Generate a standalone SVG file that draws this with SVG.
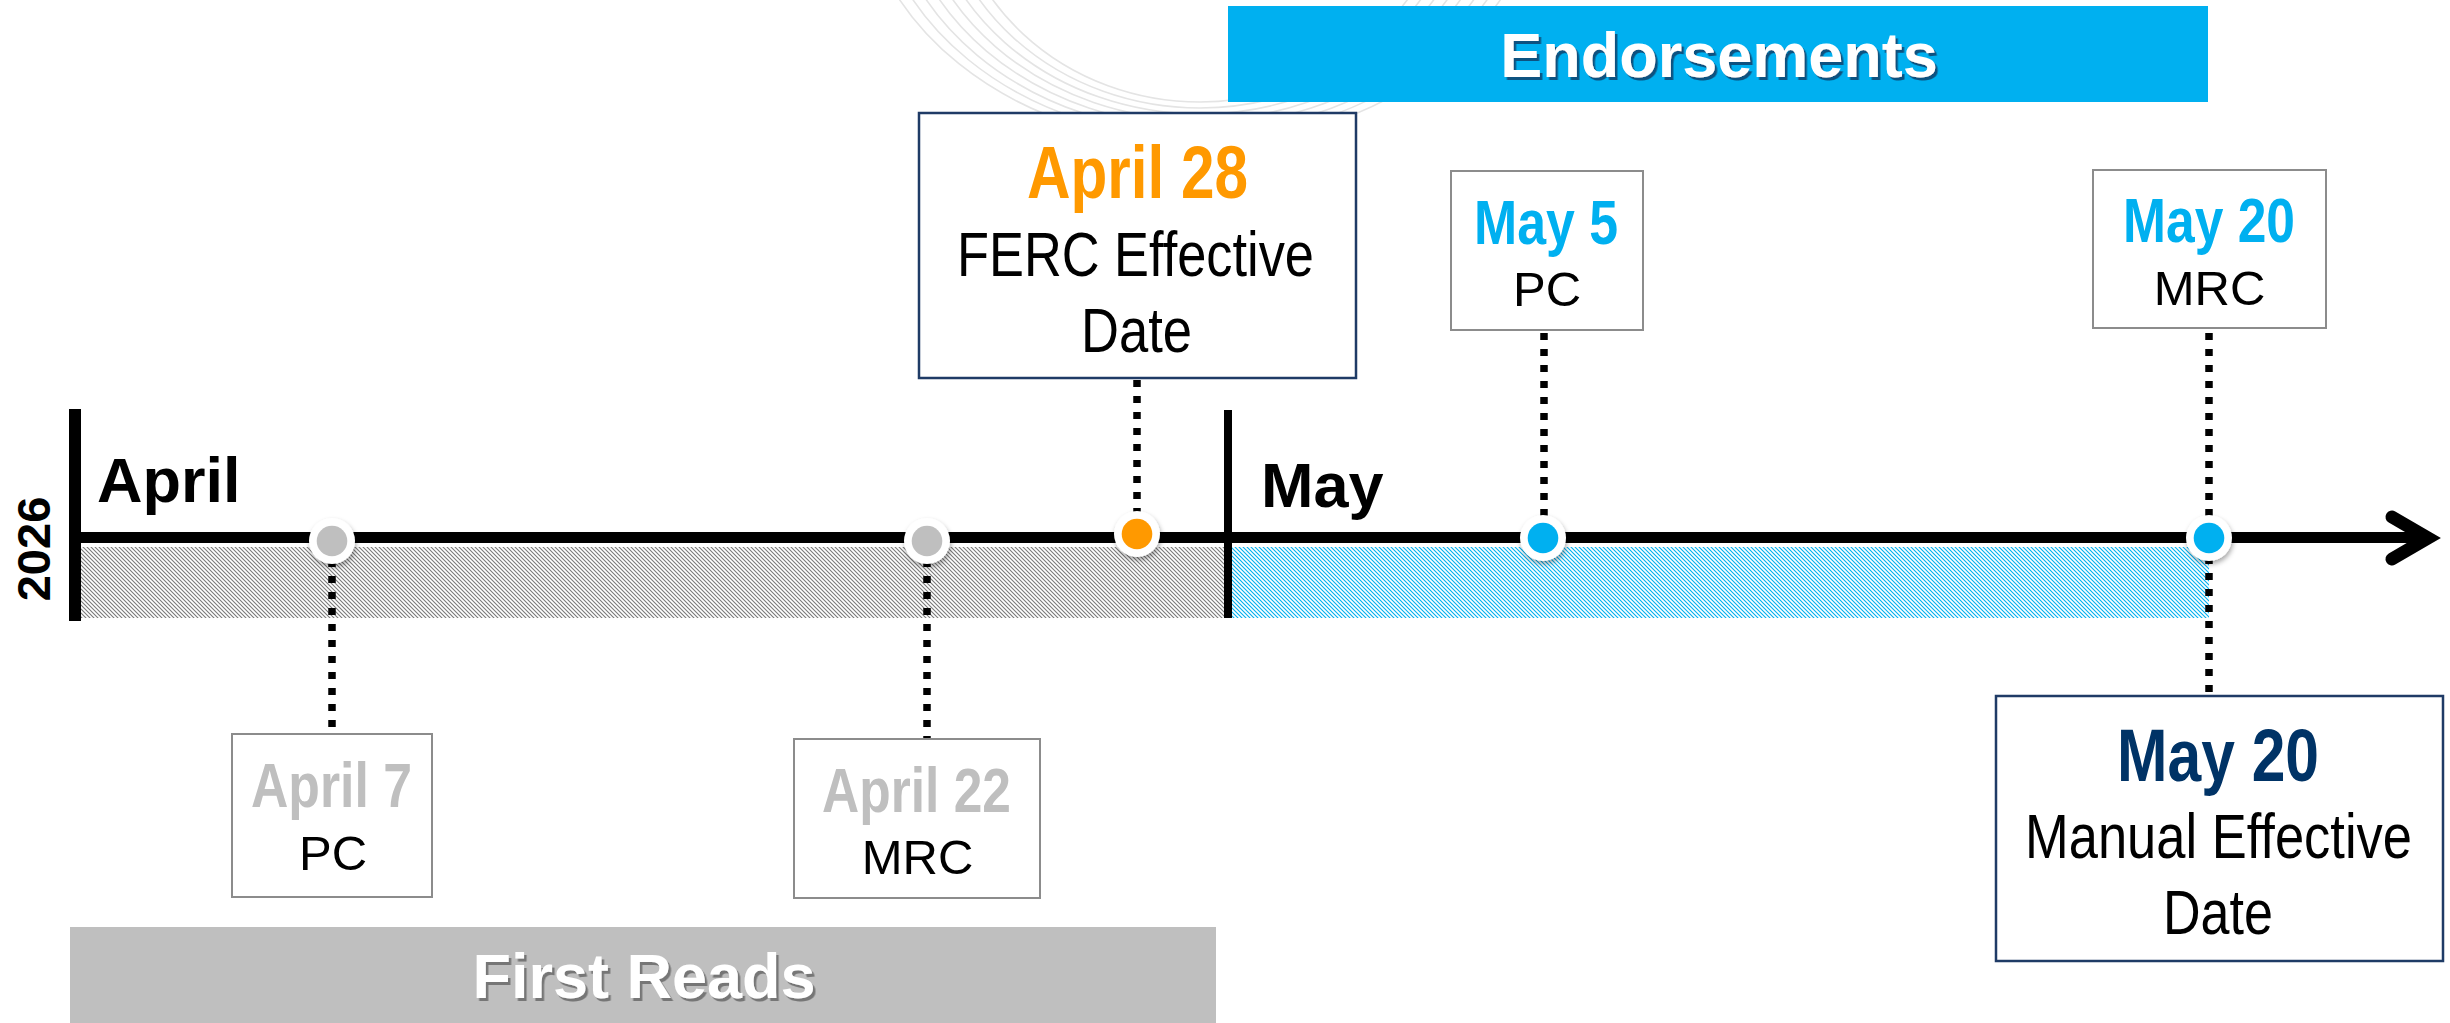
<svg xmlns="http://www.w3.org/2000/svg" width="2450" height="1023" viewBox="0 0 2450 1023">
<defs>
<style>
.bold{font-family:"Liberation Sans",Arial,sans-serif;font-weight:bold}
.reg{font-family:"Liberation Sans",Arial,sans-serif;font-weight:normal}
.dot{stroke:#000;stroke-width:7.5;stroke-dasharray:7 9;fill:none}
.gbox{fill:#fff;stroke:#8c8c8c;stroke-width:2}
.nbox{fill:#fff;stroke:#1f3b66;stroke-width:2.5}
.wm{fill:none;stroke:#e4e4e4;stroke-width:1.6}
</style>
<pattern id="hatchGray" width="4" height="4" patternUnits="userSpaceOnUse">
<rect width="4" height="4" fill="#fff"/>
<path d="M-1,-1 L5,5 M-1,3 L1,5 M3,-1 L5,1" stroke="#7a7a7a" stroke-width="1.1"/>
</pattern>
<pattern id="hatchBlue" width="4" height="4" patternUnits="userSpaceOnUse">
<rect width="4" height="4" fill="#fff"/>
<path d="M-1,-1 L5,5 M-1,3 L1,5 M3,-1 L5,1" stroke="#00b0f0" stroke-width="1.1"/>
</pattern>
<filter id="dotShadow" x="-50%" y="-50%" width="200%" height="200%">
<feDropShadow dx="1" dy="3" stdDeviation="2.5" flood-color="#000" flood-opacity="0.35"/>
</filter>
<filter id="blueTextShadow" x="-5%" y="-20%" width="110%" height="140%">
<feDropShadow dx="2.5" dy="3" stdDeviation="0.6" flood-color="#0d4a73" flood-opacity="0.9"/>
</filter>
<filter id="grayTextShadow" x="-5%" y="-20%" width="110%" height="140%">
<feDropShadow dx="2.5" dy="3" stdDeviation="0.6" flood-color="#6e6e6e" flood-opacity="0.9"/>
</filter>
</defs>
<rect width="2450" height="1023" fill="#fff"/>

<g id="watermark">
<ellipse class="wm" cx="1200" cy="-130" rx="250" ry="232"/>
<ellipse class="wm" cx="1200" cy="-130" rx="263" ry="238"/>
<ellipse class="wm" cx="1200" cy="-130" rx="276" ry="244"/>
<ellipse class="wm" cx="1200" cy="-130" rx="289" ry="250"/>
<ellipse class="wm" cx="1200" cy="-130" rx="302" ry="256"/>
<ellipse class="wm" cx="1200" cy="-130" rx="315" ry="262"/>
<ellipse class="wm" cx="1200" cy="-130" rx="328" ry="268"/>
<ellipse class="wm" cx="1200" cy="-130" rx="341" ry="274"/>
</g>

<g id="bands">
<rect x="81" y="547" width="1143" height="71" fill="url(#hatchGray)"/>
<rect x="1232" y="547" width="977" height="71" fill="url(#hatchBlue)"/>
</g>

<g id="header-endorsements">
<rect x="1228" y="6" width="980" height="96" fill="#00b0f0"/>
<text class="bold" x="1719" y="77" font-size="63" fill="#fff" text-anchor="middle" filter="url(#blueTextShadow)">Endorsements</text>
</g>

<g id="header-first-reads">
<rect x="70" y="927" width="1146" height="96" fill="#bfbfbf"/>
<text class="bold" x="644" y="998" font-size="63" fill="#fff" text-anchor="middle" filter="url(#grayTextShadow)">First Reads</text>
</g>

<g id="axis">
<rect x="69" y="409" width="12" height="212" fill="#000"/>
<rect x="1224" y="410" width="8" height="208" fill="#000"/>
<line x1="81" y1="537.5" x2="2430" y2="537.5" stroke="#000" stroke-width="11"/>
<path d="M2392,517 L2428,538 L2392,559" fill="none" stroke="#000" stroke-width="13" stroke-linecap="round" stroke-linejoin="miter"/>
<text class="bold" font-size="47" fill="#000" text-anchor="middle" transform="translate(50,549) rotate(-90)">2026</text>
<text class="bold" x="97" y="502" font-size="63" fill="#000">April</text>
<text class="bold" x="1261" y="507" font-size="63" fill="#000">May</text>
</g>

<g id="connectors">
<line class="dot" x1="332" y1="560" x2="332" y2="734"/>
<line class="dot" x1="927" y1="560" x2="927" y2="739"/>
<line class="dot" x1="1137" y1="380" x2="1137" y2="515"/>
<line class="dot" x1="1544" y1="333" x2="1544" y2="520"/>
<line class="dot" x1="2209" y1="333" x2="2209" y2="696"/>
</g>

<g id="milestones">
<g filter="url(#dotShadow)">
<circle cx="332" cy="541" r="23" fill="#fff"/>
<circle cx="927" cy="541" r="23" fill="#fff"/>
<circle cx="1137" cy="534" r="23" fill="#fff"/>
<circle cx="1543" cy="538" r="23" fill="#fff"/>
<circle cx="2209" cy="538" r="23" fill="#fff"/>
</g>
<circle cx="332" cy="541" r="15.3" fill="#bfbfbf"/>
<circle cx="927" cy="541" r="15.3" fill="#bfbfbf"/>
<circle cx="1137" cy="534" r="15.3" fill="#ff9900"/>
<circle cx="1543" cy="538" r="15.3" fill="#00b0f0"/>
<circle cx="2209" cy="538" r="15.3" fill="#00b0f0"/>
</g>

<g id="node-april7">
<rect class="gbox" x="232" y="734" width="200" height="163"/>
<text class="bold" x="251" y="807" font-size="63" fill="#bfbfbf" textLength="161" lengthAdjust="spacingAndGlyphs">April 7</text>
<text class="reg" x="333" y="870" font-size="49" fill="#000" text-anchor="middle">PC</text>
</g>

<g id="node-april22">
<rect class="gbox" x="794" y="739" width="246" height="159"/>
<text class="bold" x="822" y="812" font-size="63" fill="#bfbfbf" textLength="189" lengthAdjust="spacingAndGlyphs">April 22</text>
<text class="reg" x="917.5" y="874" font-size="49" fill="#000" text-anchor="middle">MRC</text>
</g>

<g id="node-april28">
<rect class="nbox" x="919" y="113" width="437" height="265"/>
<text class="bold" x="1027" y="198" font-size="75" fill="#ff9900" textLength="221" lengthAdjust="spacingAndGlyphs">April 28</text>
<text class="reg" x="957" y="276" font-size="63" fill="#000" textLength="357" lengthAdjust="spacingAndGlyphs">FERC Effective</text>
<text class="reg" x="1081" y="352" font-size="63" fill="#000" textLength="111" lengthAdjust="spacingAndGlyphs">Date</text>
</g>

<g id="node-may5">
<rect class="gbox" x="1451" y="171" width="192" height="159"/>
<text class="bold" x="1474" y="244" font-size="63" fill="#00b0f0" textLength="144" lengthAdjust="spacingAndGlyphs">May 5</text>
<text class="reg" x="1547" y="306" font-size="49" fill="#000" text-anchor="middle">PC</text>
</g>

<g id="node-may20-mrc">
<rect class="gbox" x="2093" y="170" width="233" height="158"/>
<text class="bold" x="2123" y="242" font-size="63" fill="#00b0f0" textLength="172" lengthAdjust="spacingAndGlyphs">May 20</text>
<text class="reg" x="2209.5" y="305" font-size="49" fill="#000" text-anchor="middle">MRC</text>
</g>

<g id="node-may20-manual">
<rect class="nbox" x="1996" y="696" width="447" height="265"/>
<text class="bold" x="2117" y="781" font-size="75" fill="#003366" textLength="202" lengthAdjust="spacingAndGlyphs">May 20</text>
<text class="reg" x="2025" y="858" font-size="63" fill="#000" textLength="387" lengthAdjust="spacingAndGlyphs">Manual Effective</text>
<text class="reg" x="2163" y="934" font-size="63" fill="#000" textLength="110" lengthAdjust="spacingAndGlyphs">Date</text>
</g>
</svg>
